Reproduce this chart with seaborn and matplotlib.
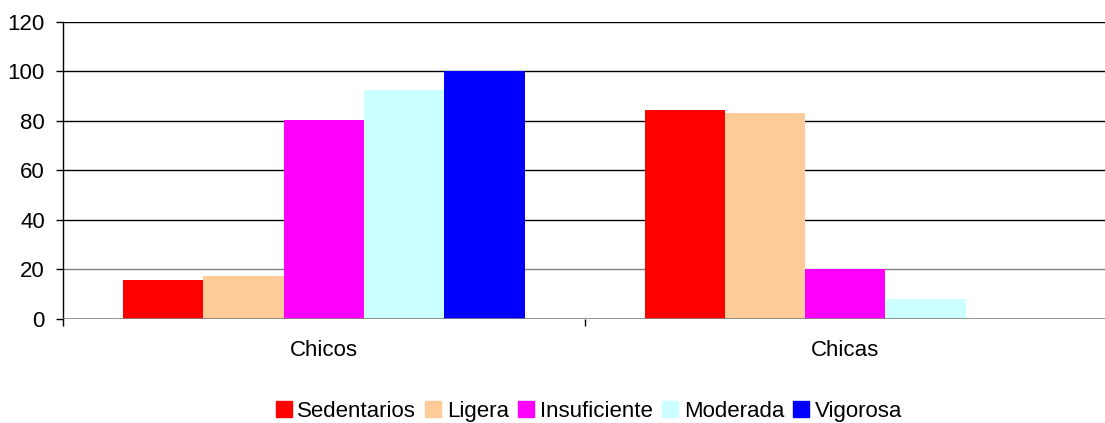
import pandas as pd
import matplotlib
matplotlib.use("Agg")
import matplotlib.pyplot as plt
import seaborn as sns

# data
groups = ["Chicos", "Chicas"]
levels = ["Sedentarios", "Ligera", "Insuficiente", "Moderada", "Vigorosa"]
chicos = [15.7, 17.4, 80.3, 92.4, 100.0]
chicas = [84.4, 83.2, 20.2, 8.1, 0.0]
colors = ["#FF0000", "#FFCC99", "#FF00FF", "#CCFFFF", "#0000FF"]
yticks = [0, 20, 40, 60, 80, 100, 120]

df = pd.DataFrame({
    "grupo": ["Chicos"] * 5 + ["Chicas"] * 5,
    "nivel": levels * 2,
    "valor": chicos + chicas,
})

sns.set_style("white")
plt.rcParams["font.family"] = ["Liberation Sans", "DejaVu Sans"]
plt.rcParams["text.color"] = "black"
plt.rcParams["xtick.color"] = "black"
plt.rcParams["ytick.color"] = "black"
plt.rcParams["xtick.labelcolor"] = "black"
plt.rcParams["ytick.labelcolor"] = "black"

fig = plt.figure(figsize=(11.05, 4.23), dpi=100)
ax = fig.add_axes([0.057, 0.246, 0.944, 0.702])

sns.barplot(data=df, x="grupo", y="valor", hue="nivel", order=groups,
            hue_order=levels, palette=colors, saturation=1, width=0.77,
            linewidth=0, ax=ax, legend=False, zorder=3)

# horizontal gridlines
for t in yticks:
    c = "#808080" if t in (0, 20) else "black"
    ax.axhline(t, color=c, lw=1.2 if t == 0 else 1.0, zorder=2 if t else 4)

ax.set_xlim(-0.5, 1.5)
ax.set_ylim(0, 120)
ax.set_yticks(yticks)
ax.set_xticks([0, 1])
ax.set_xticks([-0.5, 0.5, 1.5], minor=True)
ax.tick_params(axis="x", which="major", length=0, pad=15, labelsize=16)
ax.tick_params(axis="x", which="minor", length=5, width=1,
               direction="out", bottom=True)
ax.tick_params(axis="y", length=5, width=1, direction="out",
               left=True, pad=8, labelsize=16)
ax.set_xlabel("")
ax.set_ylabel("")

for s in ["top", "right", "bottom"]:
    ax.spines[s].set_visible(False)
ax.spines["left"].set_color("black")
ax.spines["left"].set_linewidth(1)

handles = [plt.Rectangle((0, 0), 1, 1, color=c) for c in colors]
fig.legend(handles, levels, loc="center", bbox_to_anchor=(0.533, 0.028),
           ncol=5, frameon=False, fontsize=16, handlelength=0.72,
           handleheight=0.72, handletextpad=0.25, columnspacing=0.42,
           borderaxespad=0)

fig.savefig("out.png", dpi=100)
